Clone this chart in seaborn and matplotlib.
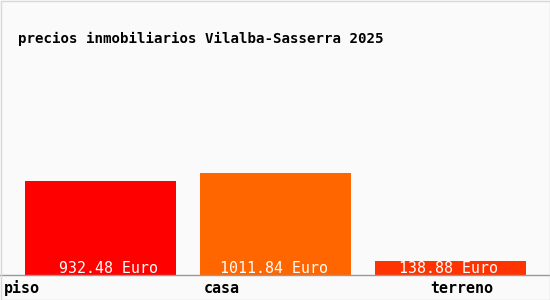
import matplotlib
matplotlib.use("Agg")
import matplotlib.pyplot as plt
import matplotlib.transforms as mtransforms
from matplotlib.patches import Rectangle
import seaborn as sns
import pandas as pd

# data
categories = ["piso", "casa", "terreno"]
values = [932.48, 1011.84, 138.88]
value_labels = ["932.48 Euro", "1011.84 Euro", "138.88 Euro"]
title = "precios inmobiliarios Vilalba-Sasserra 2025"

# style
colors = ["#ff0000", "#ff6600", "#ff3300"]
cat_label_offsets = [-0.551, -0.409, -0.117]
value_label_offsets = [0.047, -0.011, -0.011]

sns.set_theme(style="white")
plt.rcParams["font.family"] = ["DejaVu Sans Mono", "DejaVu Sans"]

df = pd.DataFrame({"cat": categories, "val": values})

fig = plt.figure(figsize=(5.5, 3.0), dpi=100)
fig.patch.set_facecolor("#fafafa")
ax = fig.add_axes([0, 25 / 300, 1, 215 / 300])
ax.set_facecolor("#fafafa")

sns.barplot(data=df, x="cat", y="val", hue="cat", palette=colors,
            width=0.863, legend=False, ax=ax, saturation=1, linewidth=0)

ax.set_xlim(-0.574, 2.569)
ax.set_ylim(0, 2133)
for s in ["top", "left", "right"]:
    ax.spines[s].set_visible(False)
ax.spines["bottom"].set_color("#999999")
ax.spines["bottom"].set_linewidth(1)
ax.set_xticks([])
ax.set_yticks([])
ax.set_xlabel("")
ax.set_ylabel("")

trans = mtransforms.blended_transform_factory(ax.transData, fig.transFigure)
for i, (lab, off) in enumerate(zip(categories, cat_label_offsets)):
    ax.text(i + off, 7 / 300, lab, transform=trans, ha="left", va="baseline",
            fontsize=10.8, fontweight="bold", color="black", clip_on=False)

for i, (lab, off) in enumerate(zip(value_labels, value_label_offsets)):
    ax.text(i + off, 27 / 300, lab, transform=trans, ha="center", va="baseline",
            fontsize=10.7, color="white", clip_on=False)

fig.text(18 / 550, 257 / 300, title, ha="left", va="baseline",
         fontsize=10.2, fontweight="bold", color="black")

fig.patches.append(Rectangle((0.5 / 550, 0.5 / 300), 549 / 550, 299 / 300,
                             transform=fig.transFigure, fill=False,
                             edgecolor="#d8d8d8", linewidth=1))

fig.savefig("out.png", dpi=100, facecolor=fig.get_facecolor())
